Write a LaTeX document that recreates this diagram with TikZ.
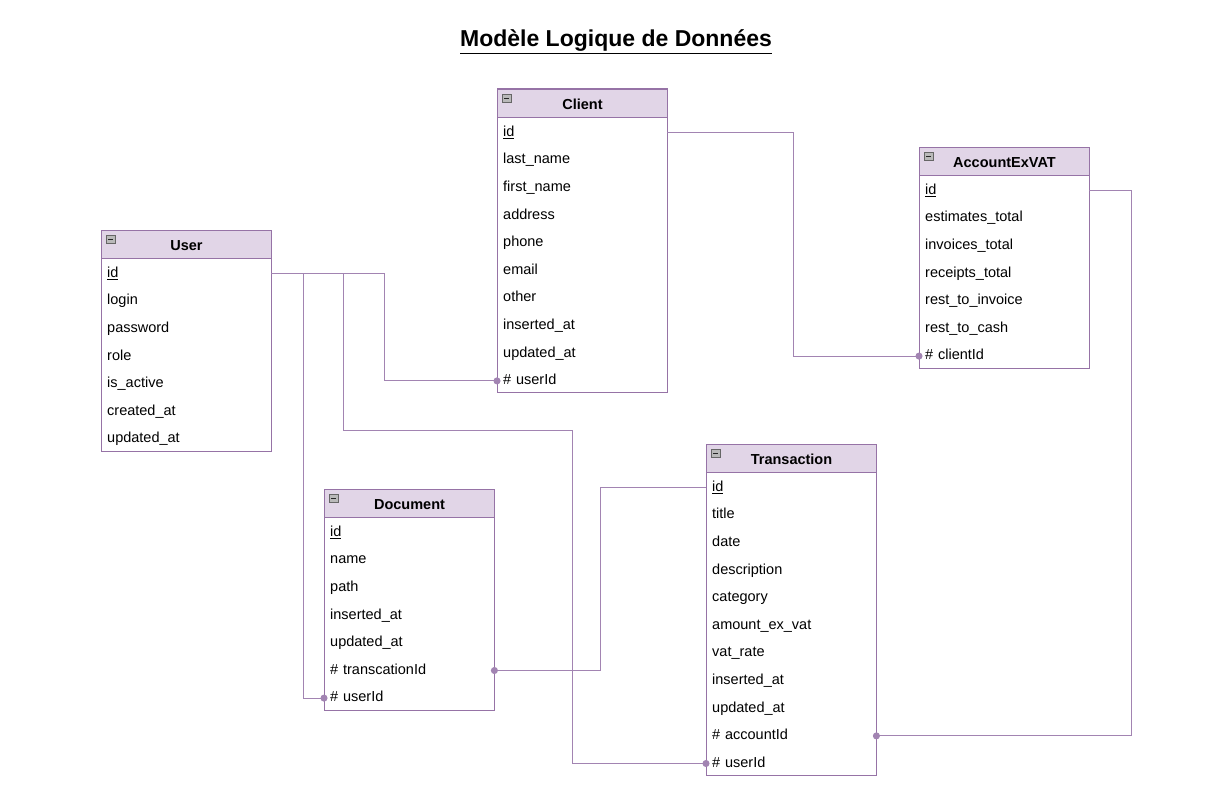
\documentclass[tikz,border=0pt]{standalone}
\usepackage{fontspec}
\setmainfont{Liberation Sans}
\usetikzlibrary{arrows.meta}

\definecolor{hdrfill}{HTML}{E1D5E7}
\definecolor{hdrline}{HTML}{9673A6}
\definecolor{linkline}{HTML}{A284B2}

\tikzset{
  header/.style={draw=hdrline, fill=hdrfill, line width=1pt, anchor=north west,
    minimum width=170pt, minimum height=28pt, inner sep=0pt,
    text height=12.5pt, text depth=1pt,
    font=\fontsize{14.5}{17}\selectfont\bfseries},
  row/.style={anchor=west, minimum width=170pt, minimum height=27.6pt,
    text width=158pt, align=left, inner xsep=6pt, inner ysep=0pt,
    text height=10.5pt, text depth=3pt,
    font=\fontsize{14.5}{17}\selectfont},
  tablebox/.style={draw=hdrline, line width=1pt},
  link/.style={draw=linkline, line width=1pt, -{Circle[length=7pt]}, shorten >=-3.5pt},
  title/.style={font=\fontsize{23}{27}\selectfont\bfseries}
}

% table: name, left x, top y, title, fields
\newcommand{\erdtable}[5]{%
  \foreach \f [count=\i] in {#5}
    {\node[row] (#1-\i) at (#2, {#3+28+15.5+27.6*(\i-1)}) {\f};
     \xdef\nrows{\i}}
  \draw[tablebox] (#2,#3) rectangle ++(170, {28+15.5+27.6*(\nrows-1)+12});
  \node[header] (#1) at (#2,#3) {#4};
  \draw[fill=gray!55, draw=gray!80!black, line width=.6pt] (#2+5,#3+5) rectangle ++(9,8);
  \draw[gray!30!black, line width=.8pt] (#2+7,#3+9) -- ++(5,0);
}

\begin{document}
\begin{tikzpicture}[x=1pt, y=-1pt]
\useasboundingbox (0,0) rectangle (1227,792);

\node[title] (title) at (616,42) {\underline{Modèle Logique de Données}};

\erdtable{user}{101}{230}{User}{\underline{id},login,password,role,is\_active,created\_at,updated\_at}
\erdtable{client}{497}{89}{Client}{\underline{id},last\_name,first\_name,address,phone,email,other,inserted\_at,updated\_at,\# userId}
\erdtable{account}{919}{147}{AccountExVAT}{\underline{id},estimates\_total,invoices\_total,receipts\_total,rest\_to\_invoice,rest\_to\_cash,\# clientId}
\erdtable{document}{324}{489}{Document}{\underline{id},name,path,inserted\_at,updated\_at,\# transcationId,\# userId}
\erdtable{transaction}{706}{444}{Transaction}{\underline{id},title,date,description,category,amount\_ex\_vat,vat\_rate,inserted\_at,updated\_at,\# accountId,\# userId}

% foreign keys
\draw[link] (user-1.east) -- ++(113,0) |- (client-10.west);
\draw[link] (user-1.east) -- ++(72,0) -- ++(0,157) -- ++(229,0) |- (transaction-11.west);
\draw[link] (user-1.east) -- ++(32,0) |- (document-7.west);
\draw[link] (client-1.east) -- ++(126,0) |- (account-7.west);
\draw[link] (account-1.east) -- ++(42,0) |- (transaction-10.east);
\draw[link] (transaction-1.west) -- ++(-106,0) |- (document-6.east);
\end{tikzpicture}
\end{document}
